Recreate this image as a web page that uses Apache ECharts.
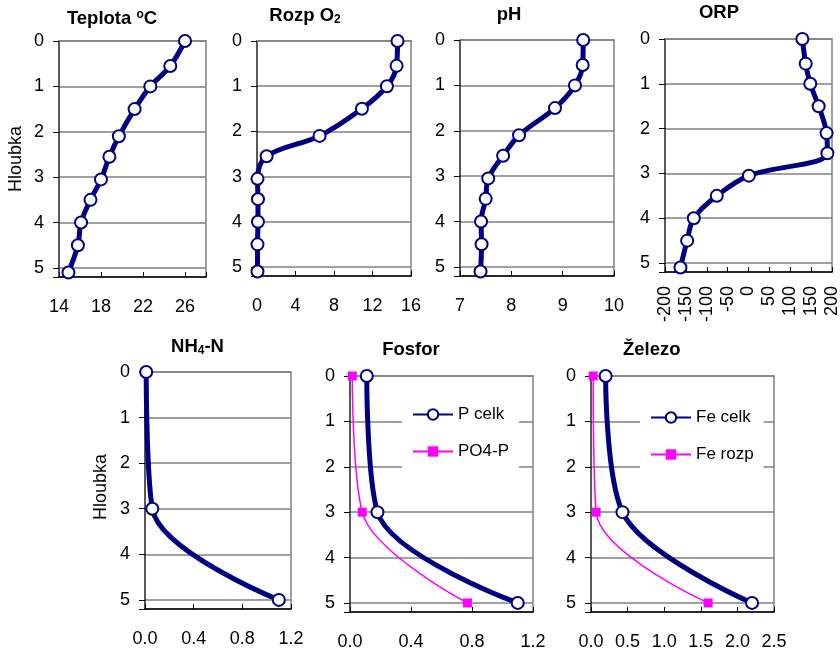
<!DOCTYPE html>
<html><head><meta charset="utf-8">
<script src="https://cdn.jsdelivr.net/npm/echarts@6/dist/echarts.min.js"></script>
<style>html,body{margin:0;padding:0;background:#fff}#c{width:840px;height:649px}</style>
</head><body><div id="c"></div>
<script>
// ---- data ----
const depthTop = [0, 0.55, 1, 1.5, 2.1, 2.55, 3.05, 3.5, 4, 4.5, 5.1];
const teplota = [26.0, 24.6, 22.7, 21.2, 19.7, 18.8, 18.0, 17.0, 16.1, 15.8, 14.9];
const rozpO2 = [14.6, 14.5, 13.5, 10.9, 6.5, 1.0, 0.05, 0.1, 0.1, 0.05, 0.05];
const pH = [9.40, 9.39, 9.24, 8.85, 8.15, 7.84, 7.55, 7.50, 7.41, 7.42, 7.40];
const orp = [129, 137, 148, 168, 187, 189, 1, -76, -131, -147, -163];

const depthBottom = [0, 3, 5];
const nh4n = [0.01, 0.06, 1.1];
const pCelk = [0.11, 0.18, 1.1];
const po4p = [0.015, 0.08, 0.77];
const feCelk = [0.2, 0.43, 2.2];
const feRozp = [0.03, 0.07, 1.6];

const titles = ['Teplota {sup|o}C', 'Rozp O{sub|2}', 'pH', 'ORP', 'NH{sub|4}-N', 'Fosfor', 'Železo'];
const yLabel = 'Hloubka';

// ---- styling ----
const FONT = '"Liberation Sans", Arial, Helvetica, sans-serif';
const NAVY = '#000080';
const PINK = '#FF00FF';
const GRIDLINE = '#808080';

const panels = [
  { grid: {left: 59, top: 41, width: 147, height: 236}, x: {min: 14, max: 28, interval: 4, fmt: v => v === 28 ? '' : String(v)}, title: [112, 18.5] },
  { grid: {left: 257, top: 41, width: 154, height: 235}, x: {min: 0, max: 16, interval: 4, fmt: v => String(v)}, title: [305, 16] },
  { grid: {left: 460, top: 40, width: 154, height: 236}, x: {min: 7, max: 10, interval: 1, fmt: v => String(v)}, title: [509, 14.5] },
  { grid: {left: 665, top: 39, width: 167, height: 233}, x: {min: -200, max: 200, interval: 50, fmt: v => String(v), rotate: 90}, title: [719, 13.3] },
  { grid: {left: 145, top: 372, width: 146, height: 237}, x: {min: 0, max: 1.2, interval: 0.4, fmt: v => v.toFixed(1)}, title: [197.5, 347] },
  { grid: {left: 350, top: 376, width: 183, height: 236}, x: {min: 0, max: 1.2, interval: 0.4, fmt: v => v.toFixed(1)}, title: [411, 350] },
  { grid: {left: 591, top: 376, width: 183, height: 236}, x: {min: 0, max: 2.5, interval: 0.5, fmt: v => v.toFixed(1)}, title: [651.7, 350] }
];

function pairs(xs, ys) { return xs.map((v, i) => [v, ys[i]]); }

const grids = [], xAxes = [], yAxes = [], graphics = [];
panels.forEach((p, i) => {
  grids.push(Object.assign({show: false, outerBoundsMode: 'none', containLabel: false}, p.grid));
  xAxes.push({
    type: 'value', gridIndex: i, position: 'bottom', min: p.x.min, max: p.x.max, interval: p.x.interval,
    axisLine: {show: true, onZero: false, lineStyle: {color: '#000', width: 1.5}},
    axisTick: {show: true, inside: true, length: 5, lineStyle: {color: '#000', width: 1}},
    splitLine: {show: false},
    axisLabel: {show: true, color: '#000', fontFamily: FONT, fontSize: 18, margin: p.x.rotate ? 14 : 21, rotate: p.x.rotate || 0,
      formatter: p.x.fmt, hideOverlap: false, showMinLabel: true, showMaxLabel: true}
  });
  yAxes.push({
    type: 'value', gridIndex: i, position: 'left', inverse: true, min: 0, max: 5.2, interval: 1,
    axisLine: {show: true, onZero: false, lineStyle: {color: '#222', width: 1.5}},
    axisTick: {show: true, inside: false, length: 6, lineStyle: {color: '#000', width: 1}},
    splitLine: {show: true, lineStyle: {color: GRIDLINE, width: 1.5, type: 'solid', opacity: 1}},
    axisLabel: {show: true, color: '#000', fontFamily: FONT, fontSize: 18, margin: 15,
      formatter: v => Math.abs(v - Math.round(v)) < 1e-6 ? String(Math.round(v)) : ''}
  });
  graphics.push({
    type: 'text', x: p.title[0], y: p.title[1], z: 10,
    style: {text: titles[i], font: 'bold 18.5px ' + FONT, fill: '#000', align: 'center', verticalAlign: 'middle',
      rich: {
        sup: {fontSize: 12, fontWeight: 'bold', fontFamily: FONT, verticalAlign: 'top', fill: '#000'},
        sub: {fontSize: 12, fontWeight: 'bold', fontFamily: FONT, verticalAlign: 'bottom', fill: '#000'}
      }}
  });
});
// frame axes (top and right, grey)
panels.forEach((p, i) => {
  xAxes.push({
    type: 'value', gridIndex: i, position: 'top', min: p.x.min, max: p.x.max, interval: p.x.interval,
    axisLine: {show: true, onZero: false, lineStyle: {color: '#808080', width: 1.5}},
    axisTick: {show: false}, axisLabel: {show: false}, splitLine: {show: false}
  });
  yAxes.push({
    type: 'value', gridIndex: i, position: 'right', inverse: true, min: 0, max: 5.2, interval: 1,
    axisLine: {show: true, onZero: false, lineStyle: {color: '#808080', width: 1.5}},
    axisTick: {show: false}, axisLabel: {show: false}, splitLine: {show: false}
  });
});

graphics.push({type: 'text', x: 16.5, y: 159, rotation: Math.PI / 2, z: 10,
  style: {text: yLabel, font: '18px ' + FONT, fill: '#000', align: 'center', verticalAlign: 'middle'}});
graphics.push({type: 'text', x: 101, y: 487, rotation: Math.PI / 2, z: 10,
  style: {text: yLabel, font: '18px ' + FONT, fill: '#000', align: 'center', verticalAlign: 'middle'}});

function navySeries(name, idx, xs, ys) {
  return {type: 'line', name: name, xAxisIndex: idx, yAxisIndex: idx, data: pairs(xs, ys), smooth: 0.35,
    symbol: 'circle', symbolSize: 12, showAllSymbol: true, clip: false,
    lineStyle: {color: NAVY, width: 5}, itemStyle: {color: '#fff', borderColor: NAVY, borderWidth: 2}, z: 4};
}
function pinkSeries(name, idx, xs, ys) {
  return {type: 'line', name: name, xAxisIndex: idx, yAxisIndex: idx, data: pairs(xs, ys), smooth: 0.35,
    symbol: 'rect', symbolSize: 9, showAllSymbol: true, clip: false,
    lineStyle: {color: PINK, width: 1.5}, itemStyle: {color: PINK}, z: 3};
}

const series = [
  navySeries('Teplota', 0, teplota, depthTop),
  navySeries('Rozp O2', 1, rozpO2, depthTop),
  navySeries('pH', 2, pH, depthTop),
  navySeries('ORP', 3, orp, depthTop),
  navySeries('NH4-N', 4, nh4n, depthBottom),
  pinkSeries('PO4-P', 5, po4p, depthBottom),
  navySeries('P celk', 5, pCelk, depthBottom),
  pinkSeries('Fe rozp', 6, feRozp, depthBottom),
  navySeries('Fe celk', 6, feCelk, depthBottom)
];

const legendBase = {orient: 'vertical', itemWidth: 40, itemHeight: 13, itemGap: 20, padding: [10, 10, 10, 10],
  backgroundColor: '#fff', selectedMode: false, z: 6,
  textStyle: {fontFamily: FONT, fontSize: 17, color: '#000'}};

const option = {
  animation: false,
  backgroundColor: '#fff',
  grid: grids, xAxis: xAxes, yAxis: yAxes, series: series,
  legend: [
    Object.assign({}, legendBase, {left: 402, top: 396, data: ['P celk', 'PO4-P']}),
    Object.assign({}, legendBase, {left: 640, top: 399, data: ['Fe celk', 'Fe rozp']})
  ],
  graphic: graphics
};

const chart = echarts.init(document.getElementById('c'), null, {renderer: 'canvas'});
chart.setOption(option);
</script>
</body></html>
